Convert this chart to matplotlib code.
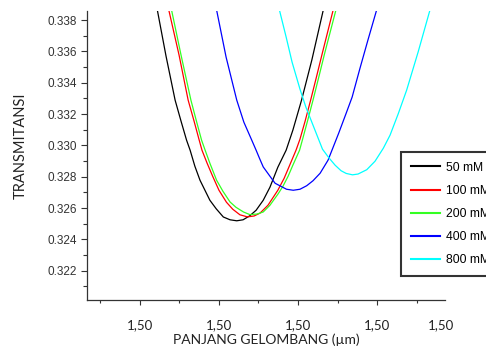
import matplotlib
matplotlib.use("Agg")
import matplotlib.pyplot as plt

# ---- data (wavelength in µm, transmittance) ----
x_50 = [1.499644, 1.499666, 1.499689, 1.499704, 1.499718, 1.499727, 1.499739, 1.499752,
        1.499777, 1.499793, 1.499811, 1.499828, 1.499845, 1.499861, 1.499878, 1.499894,
        1.499912, 1.499929, 1.499949, 1.499970, 1.499987, 1.500009, 1.500035, 1.500064]
y_50 = [0.338639, 0.335700, 0.332888, 0.331546, 0.330332, 0.329693, 0.328671, 0.327776,
        0.326498, 0.325954, 0.325431, 0.325252, 0.325188, 0.325252, 0.325508, 0.325860,
        0.326498, 0.327329, 0.328607, 0.329693, 0.330971, 0.332888, 0.335444, 0.338639]

x_100 = [1.499673, 1.499699, 1.499722, 1.499737, 1.499750, 1.499757, 1.499770, 1.499784,
         1.499800, 1.499819, 1.499835, 1.499853, 1.499872, 1.499889, 1.499904, 1.499924,
         1.499949, 1.499965, 1.499980, 1.499995, 1.500005, 1.500018, 1.500032, 1.500046,
         1.500061, 1.500089]
y_100 = [0.338639, 0.335764, 0.332888, 0.331546, 0.330332, 0.329693, 0.328862, 0.328032,
         0.327137, 0.326370, 0.325923, 0.325571, 0.325437, 0.325495, 0.325680, 0.326179,
         0.327137, 0.327904, 0.328798, 0.329693, 0.330396, 0.331546, 0.332888, 0.334294,
         0.335827, 0.338639]

x_200 = [1.499680, 1.499704, 1.499729, 1.499743, 1.499756, 1.499765, 1.499777, 1.499794,
         1.499810, 1.499828, 1.499843, 1.499862, 1.499878, 1.499896, 1.499912, 1.499929,
         1.499949, 1.499962, 1.499975, 1.499987, 1.500004, 1.500011, 1.500024, 1.500038,
         1.500052, 1.500067, 1.500096]
y_200 = [0.338639, 0.335764, 0.332888, 0.331546, 0.330332, 0.329693, 0.328862, 0.327776,
         0.327073, 0.326389, 0.326051, 0.325750, 0.325584, 0.325616, 0.325750, 0.326179,
         0.326881, 0.327393, 0.328032, 0.328735, 0.329693, 0.330332, 0.331546, 0.332888,
         0.334294, 0.335827, 0.338639]

x_400 = [1.499794, 1.499818, 1.499845, 1.499863, 1.499883, 1.499894, 1.499903, 1.499912,
         1.499929, 1.499942, 1.499954, 1.499971, 1.499988, 1.500005, 1.500022, 1.500038,
         1.500056, 1.500076, 1.500089, 1.500103, 1.500122, 1.500137, 1.500157, 1.500177,
         1.500199]
y_400 = [0.338639, 0.335636, 0.332888, 0.331482, 0.330332, 0.329693, 0.329150, 0.328626,
         0.328032, 0.327584, 0.327425, 0.327201, 0.327137, 0.327201, 0.327425, 0.327744,
         0.328223, 0.329054, 0.329885, 0.330779, 0.332057, 0.333080, 0.334933, 0.336722,
         0.338639]

x_800 = [1.499953, 1.499970, 1.499985, 1.500005, 1.500020, 1.500033, 1.500046, 1.500062,
         1.500078, 1.500094, 1.500109, 1.500122, 1.500138, 1.500152, 1.500174, 1.500195,
         1.500216, 1.500233, 1.500254, 1.500275, 1.500304, 1.500334]
y_800 = [0.338639, 0.336914, 0.335316, 0.333591, 0.332441, 0.331610, 0.330779, 0.329757,
         0.329214, 0.328735, 0.328383, 0.328210, 0.328121, 0.328172, 0.328447, 0.328990,
         0.329821, 0.330652, 0.332038, 0.333527, 0.335955, 0.338639]

series_labels = ["50 mM", "100 mM", "200 mM", "400 mM", "800 mM"]
series_colors = ["#000000", "#ff0000", "#33ff22", "#0000ff", "#00ffff"]

x_major = [1.4996, 1.4998, 1.5000, 1.5002, 1.500362]
x_major_labels = ["1,50", "1,50", "1,50", "1,50", "1,50"]
x_minor = [1.4995, 1.4997, 1.4999, 1.5001, 1.5003]
y_major = [0.322, 0.324, 0.326, 0.328, 0.330, 0.332, 0.334, 0.336, 0.338]
y_major_labels = ["0.322", "0.324", "0.326", "0.328", "0.330", "0.332", "0.334", "0.336", "0.338"]
y_minor = [0.321, 0.323, 0.325, 0.327, 0.329, 0.331, 0.333, 0.335, 0.337]

xs = [x_50, x_100, x_200, x_400, x_800]
ys = [y_50, y_100, y_200, y_400, y_800]

fig = plt.figure(figsize=(4.86, 3.53), dpi=100)
ax = fig.add_axes([0.179, 0.150, 0.7366, 0.8188])

for xv, yv, lab, col in zip(xs, ys, series_labels, series_colors):
    ax.plot(xv, yv, color=col, lw=0.9, label=lab, solid_joinstyle="round")

ax.set_xlim(1.499466, 1.500372)
ax.set_ylim(0.32013, 0.338575)

axis_col = "#333333"
for s in ["top", "right"]:
    ax.spines[s].set_visible(False)
for s in ["left", "bottom"]:
    ax.spines[s].set_color(axis_col)
    ax.spines[s].set_linewidth(0.9)

ax.set_xticks(x_major, labels=x_major_labels)
ax.set_xticks(x_minor, minor=True)
ax.set_yticks(y_major, labels=y_major_labels)
ax.set_yticks(y_minor, minor=True)
ax.xaxis.get_major_ticks()[-1].tick1line.set_visible(False)

ax.tick_params(axis="x", which="major", length=3.5, width=0.8, color=axis_col, pad=10,
               labelsize=9.5, labelcolor="#222222")
ax.tick_params(axis="x", which="minor", length=2, width=0.8, color=axis_col)
ax.tick_params(axis="y", which="major", length=4, width=0.8, color=axis_col, pad=3,
               labelsize=8.5, labelcolor="#333333")
ax.tick_params(axis="y", which="minor", length=3, width=0.8, color=axis_col)
for t in ax.get_xticklabels():
    t.set_family("Lato")
for t in ax.get_yticklabels():
    t.set_family("Liberation Sans")

ax.set_xlabel("PANJANG GELOMBANG (µm)", family="Lato", fontsize=10, color="#222222", labelpad=2)
fig.text(21 / 486, 1 - 146 / 353, "TRANSMITANSI", rotation=90, family="Lato", fontsize=10.5,
         color="#222222", ha="center", va="center")

leg = ax.legend(loc="upper left", bbox_to_anchor=(401 / 486, 1 - 152 / 353),
                bbox_transform=fig.transFigure, frameon=True, fancybox=False,
                prop={"family": "Liberation Sans", "size": 8.7}, handlelength=2.4,
                handletextpad=0.5, labelspacing=0.92, borderpad=0.8, borderaxespad=0)
leg.get_frame().set_edgecolor("#000000")
leg.get_frame().set_linewidth(1.5)
for h in leg.get_lines():
    h.set_linewidth(1.5)

fig.savefig("out.png", dpi=100)
